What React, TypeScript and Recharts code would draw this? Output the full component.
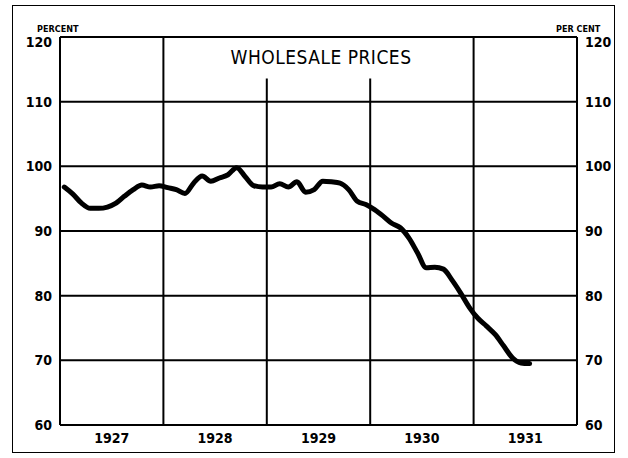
import React from 'react';
import { LineChart, Line, XAxis, YAxis, ReferenceLine } from 'recharts';

// monthly index, Jan 1927 = 0 ... Jul 1931
const yearLabels = ['1927', '1928', '1929', '1930', '1931'];
const yearCenters = [6, 18, 30, 42, 54];
const yearBounds = [12, 48];
const partialBounds = [24, 36];
const yTicks = [60, 70, 80, 90, 100, 110, 120];

const wholesale = [
  96.8, 95.7, 94.3, 93.5, 93.5, 93.7, 94.3, 95.4, 96.4, 97.1, 96.8, 97.0,
  96.7, 96.4, 95.8, 97.4, 98.5, 97.7, 98.2, 98.7, 99.8, 98.4, 97.0, 96.8,
  96.8, 97.3, 96.8, 97.6, 96.0, 96.4, 97.7, 97.6, 97.4, 96.4, 94.6, 94.1,
  93.3, 92.3, 91.2, 90.5, 88.9, 86.6, 84.3, 84.4, 84.1, 82.4, 80.4, 78.2,
  76.5, 75.3, 74.0, 72.2, 70.4, 69.6, 69.5,
];

const data = wholesale.map((v, i) => ({ month: i + 0.5, value: v }));

const font = "'DejaVu Sans Condensed', 'DejaVu Sans', sans-serif";

const YTick = (props: any) => {
  const { x, y, payload, textAnchor } = props;
  const dy = payload.value === 120 ? 10 : 5;
  return (
    <text x={x} y={y + dy} textAnchor={textAnchor} fill="#000" fontSize={14} fontWeight="bold" fontFamily={font}>
      {payload.value}
    </text>
  );
};

export default function App() {
  return (
    <div style={{ position: 'relative', width: 628, height: 458, background: '#fff' }}>
      <style>{`body{margin:0}`}</style>
      <div
        style={{
          position: 'absolute', left: 12, top: 5, width: 601, height: 446,
          border: '1.5px solid #000',
        }}
      />
      <LineChart width={628} height={458} data={data} margin={{ top: 37, right: 0, left: 0, bottom: 0 }}>
        <XAxis
          dataKey="month"
          type="number"
          domain={[0, 60]}
          ticks={yearCenters}
          interval={0}
          tickFormatter={(t: number) => yearLabels[yearCenters.indexOf(t)]}
          axisLine={false}
          tickLine={false}
          height={33}
          tick={{ fill: '#000', fontSize: 14, fontWeight: 'bold', fontFamily: font }}
        />
        <YAxis
          yAxisId="left"
          domain={[60, 120]}
          ticks={yTicks}
          interval={0}
          width={60}
          axisLine={false}
          tickLine={false}
          tick={<YTick />}
        />
        <YAxis
          yAxisId="right"
          orientation="right"
          domain={[60, 120]}
          ticks={yTicks}
          interval={0}
          width={51}
          axisLine={false}
          tickLine={false}
          tick={<YTick />}
        />
        {yTicks.map((t) => (
          <ReferenceLine key={'h' + t} yAxisId="left" y={t} stroke="#000" strokeWidth={2} />
        ))}
        {[0, ...yearBounds, 60].map((m) => (
          <ReferenceLine key={'v' + m} yAxisId="left" x={m} stroke="#000" strokeWidth={2} />
        ))}
        {partialBounds.map((m) => (
          <ReferenceLine
            key={'p' + m}
            yAxisId="left"
            segment={[{ x: m, y: 60 }, { x: m, y: 113.6 }]}
            stroke="#000"
            strokeWidth={2}
          />
        ))}
        {/* invisible twin so the right-hand scale gets drawn */}
        <Line
          yAxisId="right"
          dataKey="value"
          stroke="none"
          dot={false}
          activeDot={false}
          isAnimationActive={false}
        />
        <Line
          yAxisId="left"
          dataKey="value"
          type="monotone"
          stroke="#000"
          strokeWidth={5}
          strokeLinejoin="round"
          strokeLinecap="round"
          dot={false}
          isAnimationActive={false}
        />
      </LineChart>
      <div style={{ position: 'absolute', left: 0, width: 642, top: 46, textAlign: 'center', fontFamily: font, fontSize: 19, letterSpacing: 0.5 }}>
        WHOLESALE PRICES
      </div>
      <div style={{ position: 'absolute', left: 37, top: 24, fontFamily: font, fontSize: 9, fontWeight: 'bold' }}>
        PERCENT
      </div>
      <div style={{ position: 'absolute', left: 556, top: 24, fontFamily: font, fontSize: 9, fontWeight: 'bold' }}>
        PER CENT
      </div>
    </div>
  );
}
